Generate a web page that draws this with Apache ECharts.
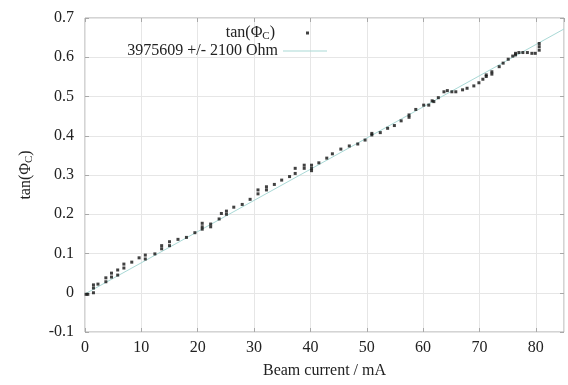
<!DOCTYPE html>
<html>
<head>
<meta charset="utf-8">
<script src="https://cdn.jsdelivr.net/npm/echarts@6/dist/echarts.min.js"></script>
<style>
html,body{margin:0;padding:0;background:#fff;}
#chart{width:568px;height:385px;}
</style>
</head>
<body>
<div id="chart"></div>
<script>
// Measured data: beam current (mA) vs tan(Phi_C)
var beamCurrent = [0.2,0.5,1.5,1.5,1.5,2.3,3.7,3.7,4.7,4.7,5.8,5.8,6.9,6.9,8.3,9.6,10.7,10.7,12.4,13.6,13.6,15.0,15.0,16.5,18.0,19.5,20.8,20.8,20.8,22.3,22.3,23.8,24.2,25.1,25.1,26.4,27.9,29.3,30.7,30.7,32.2,32.2,33.6,34.9,36.3,37.3,37.3,38.9,38.9,40.2,40.2,40.2,41.5,42.9,43.9,45.4,46.9,48.4,49.7,50.9,50.9,52.4,53.7,54.9,56.1,57.5,57.5,58.7,60.1,61.0,61.6,61.9,62.7,63.7,64.3,65.1,65.8,67.0,67.8,69.0,69.9,70.6,71.2,71.2,72.2,72.2,73.5,74.2,75.1,75.9,76.4,76.4,77.0,77.7,78.5,79.3,79.9,80.6,80.6,80.6];
var tanPhi = [-0.004,-0.004,0.020,0.012,0.000,0.022,0.038,0.028,0.050,0.040,0.058,0.045,0.073,0.063,0.078,0.089,0.096,0.086,0.099,0.112,0.120,0.130,0.120,0.136,0.141,0.153,0.177,0.168,0.162,0.175,0.168,0.188,0.202,0.208,0.200,0.218,0.225,0.238,0.262,0.252,0.270,0.262,0.276,0.287,0.296,0.304,0.317,0.325,0.317,0.325,0.317,0.311,0.331,0.343,0.354,0.366,0.374,0.379,0.389,0.402,0.406,0.408,0.419,0.426,0.438,0.453,0.447,0.467,0.478,0.478,0.489,0.487,0.497,0.512,0.515,0.512,0.512,0.517,0.521,0.527,0.535,0.544,0.555,0.551,0.563,0.557,0.576,0.585,0.595,0.603,0.610,0.606,0.612,0.612,0.612,0.610,0.610,0.635,0.627,0.618];
// Fit line end points
var fitX = [0, 85];
var fitY = [-0.003, 0.672];
var seriesNames = ['tan(Φ_C)', '3975609 +/- 2100 Ohm'];
var xTicks = {min: 0, max: 85, interval: 10};
var yTicks = {min: -0.1, max: 0.7, interval: 0.1};

var FONT = '"Liberation Serif", "Times New Roman", serif';
var TXT = '#222';
var FRAME = '#a8a8a8';
var GRIDC = '#e6e6e6';
var FITC = '#a9d9d6';

var chart = echarts.init(document.getElementById('chart'), null, {renderer: 'canvas'});

var scatterData = beamCurrent.map(function (x, i) { return [x, tanPhi[i]]; });
var fitData = fitX.map(function (x, i) { return [x, fitY[i]]; });

var richSub = {
  a: {fontFamily: FONT, fontSize: 16, color: TXT},
  s: {fontFamily: FONT, fontSize: 11, color: TXT, padding: [7, 0, 0, 0]},
  p: {width: 26}
};

chart.setOption({
  animation: false,
  backgroundColor: '#fff',
  grid: {left: 85, right: 4, top: 18, bottom: 53, show: true, borderColor: FRAME, borderWidth: 1, containLabel: false},
  legend: [
    {
      data: [seriesNames[0]], orient: 'vertical', align: 'right', right: 259, top: 25, padding: 0,
      itemWidth: 3, itemHeight: 3, icon: 'rect',
      formatter: function () { return '{a|tan(Φ}{s|C}{a|)}{p| }'; },
      textStyle: {rich: richSub}
    },
    {
      data: [{name: seriesNames[1], icon: 'rect', itemStyle: {color: FITC}}],
      orient: 'vertical', align: 'right', right: 241, top: 43, padding: 0,
      itemWidth: 44, itemHeight: 1,
      textStyle: {fontFamily: FONT, fontSize: 16, color: TXT}
    }
  ],
  xAxis: [
    {
      type: 'value', min: xTicks.min, max: xTicks.max, interval: xTicks.interval,
      name: 'Beam current / mA', nameLocation: 'middle', nameGap: 31,
      nameTextStyle: {fontFamily: FONT, fontSize: 16, color: TXT},
      axisLine: {show: false, onZero: false},
      axisTick: {show: true, inside: true, length: 4, lineStyle: {color: FRAME}},
      axisLabel: {fontFamily: FONT, fontSize: 16, color: TXT, margin: 8, showMaxLabel: false},
      splitLine: {show: true, lineStyle: {color: GRIDC, width: 1}}
    },
    {
      type: 'value', position: 'top', min: xTicks.min, max: xTicks.max, interval: xTicks.interval,
      axisLine: {show: false, onZero: false},
      axisTick: {show: true, inside: true, length: 4, lineStyle: {color: FRAME}},
      axisLabel: {show: false}, splitLine: {show: false}
    }
  ],
  yAxis: [
    {
      type: 'value', min: yTicks.min, max: yTicks.max, interval: yTicks.interval,
      name: '{a|tan(Φ}{s|C}{a|)}', nameLocation: 'middle', nameGap: 50, nameRotate: 90,
      nameTextStyle: {rich: richSub},
      axisLine: {show: false, onZero: false},
      axisTick: {show: true, inside: true, length: 4, lineStyle: {color: FRAME}},
      axisLabel: {fontFamily: FONT, fontSize: 16, color: TXT, margin: 11,
        formatter: function (v) { return String(Math.round(v * 10) / 10); }},
      splitLine: {show: true, lineStyle: {color: GRIDC, width: 1}}
    },
    {
      type: 'value', position: 'right', min: yTicks.min, max: yTicks.max, interval: yTicks.interval,
      axisLine: {show: false, onZero: false},
      axisTick: {show: true, inside: true, length: 4, lineStyle: {color: FRAME}},
      axisLabel: {show: false}, splitLine: {show: false}
    }
  ],
  series: [
    {
      name: seriesNames[0], type: 'scatter', data: scatterData,
      symbol: 'rect', symbolSize: 3,
      itemStyle: {color: '#111'}, z: 3
    },
    {
      name: seriesNames[1], type: 'line', data: fitData,
      showSymbol: false, symbol: 'none',
      lineStyle: {color: FITC, width: 1},
      itemStyle: {color: FITC}, z: 2
    }
  ]
});
</script>
</body>
</html>
